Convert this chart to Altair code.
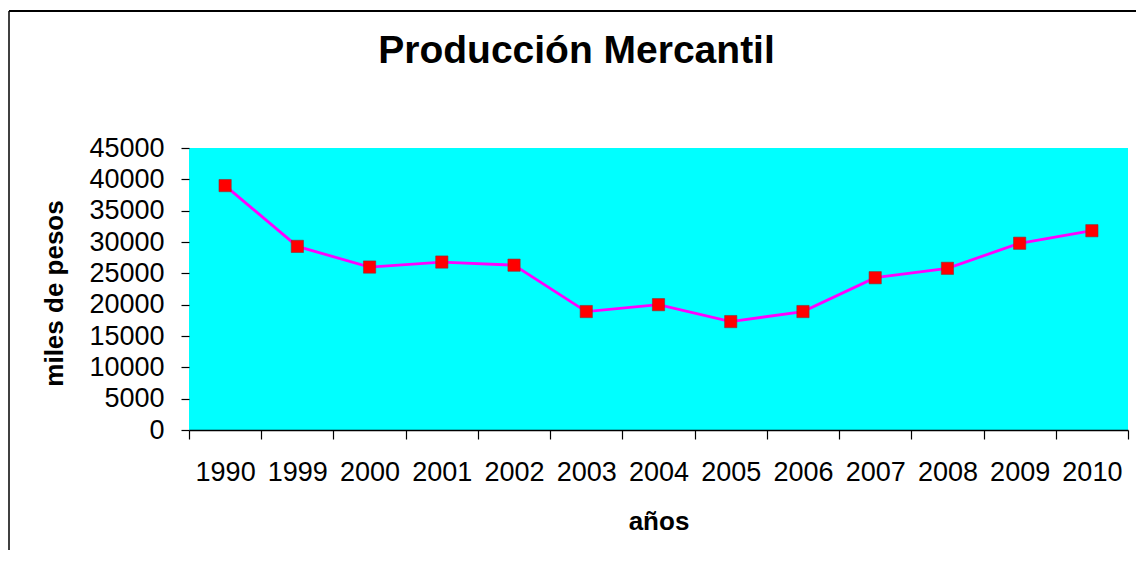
import altair as alt
import pandas as pd

years = ["1990", "1999", "2000", "2001", "2002", "2003", "2004",
         "2005", "2006", "2007", "2008", "2009", "2010"]
values = [39000, 29300, 26000, 26800, 26300, 18900, 20000,
          17300, 18900, 24300, 25800, 29800, 31800]
y_ticks = [0, 5000, 10000, 15000, 20000, 25000, 30000, 35000, 40000, 45000]

df = pd.DataFrame({"año": years, "valor": values})

FONT = "Liberation Sans"

x_enc = alt.X(
    "año:N", sort=None,
    scale=alt.Scale(type="band", paddingInner=0, paddingOuter=0),
    axis=alt.Axis(
        title="años", labelAngle=0, tickBand="extent", ticks=True, tickSize=9,
        tickColor="black", tickWidth=1.2, domainColor="black", domainWidth=1.5,
        labelPadding=20, labelFontSize=27, labelFont=FONT, labelColor="black",
        labelOverlap=False, labelBaseline="top",
        titleFont=FONT, titleFontSize=26, titleFontWeight="bold", titleColor="black",
        titleY=91, titleBaseline="middle", grid=False,
    ),
)
y_enc = alt.Y(
    "valor:Q",
    scale=alt.Scale(domain=[0, 45000], nice=False, zero=True),
    axis=alt.Axis(
        values=y_ticks, title="miles de pesos", domain=False, grid=False,
        tickSize=8, tickColor="black", tickWidth=1.2,
        labelPadding=17, labelFontSize=27, labelFont=FONT, labelColor="black",
        labelOverlap=False, format="d",
        titleFont=FONT, titleFontSize=26, titleFontWeight="bold", titleColor="black",
        titleX=-135, titleY=145, titleAngle=270, titleBaseline="middle", titleAlign="center",
    ),
)

base = alt.Chart(df)
line = base.mark_line(color="#FF00FF", strokeWidth=2.8).encode(x=x_enc, y=y_enc)
pts = base.mark_point(shape="square", filled=True, size=150, color="#FF0000",
                      stroke="#8a3030", strokeWidth=0.6, opacity=1).encode(x=x_enc, y=y_enc)

frame_data = alt.Data(values=[{"k": 1}])
left_border = alt.Chart(frame_data).mark_rule(color="black", strokeWidth=1.5).encode(
    x=alt.value(-180), y=alt.value(-137), y2=alt.value(420))
top_border = alt.Chart(frame_data).mark_rule(color="black", strokeWidth=2).encode(
    x=alt.value(-180), x2=alt.value(947), y=alt.value(-137))

chart = alt.layer(line, pts, left_border, top_border).properties(
    width=939, height=282,
    autosize=alt.AutoSizeParams(type="none"),
    padding={"left": 181, "top": 140, "right": 8, "bottom": 120},
    background="white",
    title=alt.Title("Producción Mercantil", font=FONT, fontSize=39, fontWeight="bold",
                    color="black", anchor="middle", dx=-82, offset=-92,
                    baseline="alphabetic"),
).configure_view(fill="#00FFFF", stroke=None)

chart.save("out.html", embed_options={"renderer": "svg", "actions": False})
